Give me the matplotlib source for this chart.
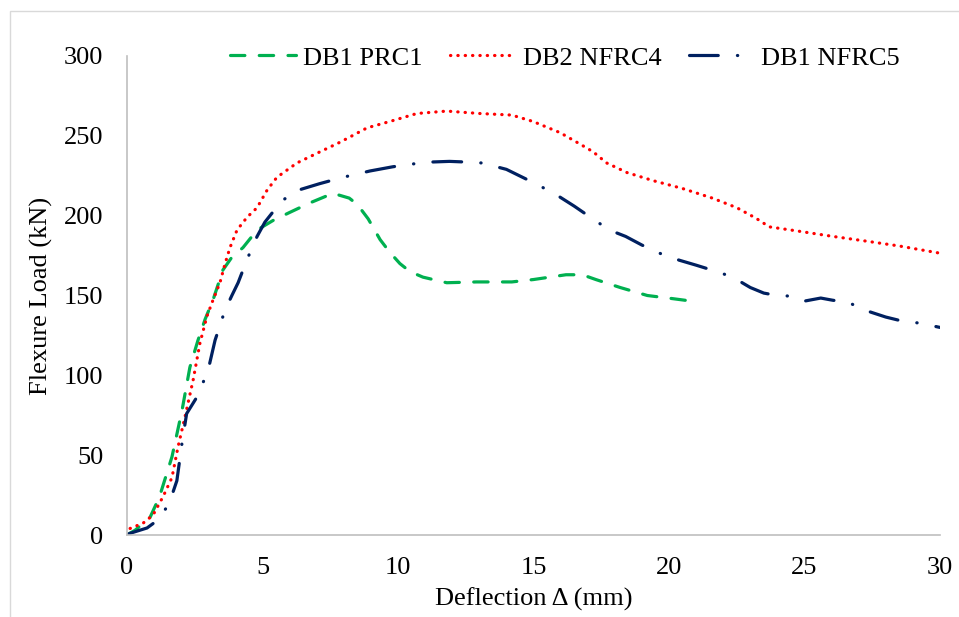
import matplotlib.pyplot as plt
from matplotlib.patches import Rectangle

# DB1 PRC1
x_prc1 = [0, 0.3, 0.85, 1.2, 1.66, 2.03, 2.32, 2.62, 2.88, 3.17, 3.54, 3.87, 4.28, 4.8, 5.39, 6.0,
          6.75, 7.6, 8.2, 8.5, 8.9, 9.34, 9.7, 10.07, 10.44, 10.92, 11.8, 12.9, 14.2, 15.0, 16.2,
          16.8, 17.3, 18.2, 19.2, 20.15, 20.6]
y_prc1 = [0, 3, 11, 24, 49, 78, 105, 122, 135, 147, 166, 174, 180, 191, 197, 202,
          208, 214, 211, 207, 198, 185, 177, 170, 165, 161.5, 158, 158.5, 158.5, 160, 163,
          163, 160, 155, 150, 148, 147]

# DB2 NFRC4
x_nfrc4 = [0, 0.1, 0.6, 0.96, 1.33, 1.66, 1.88, 2.14, 2.44, 2.69, 2.95, 3.17, 3.43, 3.62, 3.8,
           4.06, 4.43, 4.8, 5.17, 5.53, 6.27, 7.0, 7.86, 8.86, 9.7, 10.7, 11.8, 13.0, 14.2, 14.98,
           15.98, 16.7, 17.2, 17.7, 18.45, 19.4, 20.5, 21.6, 22.5, 23.2, 23.7, 24.7, 26.05, 27.3,
           28.5, 30]
y_nfrc4 = [0, 4, 7.5, 12.5, 24, 36, 55, 74, 97, 120, 137, 147, 158, 170, 180,
           191, 199, 205, 216, 224, 233, 239, 246, 255, 259, 264, 265.5, 264, 263, 259,
           252, 245, 240, 233, 227, 222, 217, 211, 205, 198.5, 193, 190.5, 187, 184,
           181, 176.5]

# DB1 NFRC5
x_nfrc5 = [0, 0.1, 0.74, 1.14, 1.47, 1.7, 1.84, 2.03, 2.2, 2.58, 2.77, 2.99, 3.25, 3.62, 3.87,
           4.1, 4.35, 4.54, 4.8, 5.09, 5.65, 6.13, 7.1, 7.96, 8.97, 9.8, 10.37, 11.07, 11.9, 12.5,
           13.1, 14.0, 14.6, 15.2, 15.98, 16.5, 17.1, 17.8, 18.4, 19.0, 19.85, 20.4, 21.0, 21.95,
           22.5, 23.0, 23.5, 24.0, 24.5, 25.0, 25.6, 26.05, 26.6, 27.1, 28.0, 28.6, 29.25, 30]
y_nfrc5 = [0, 1, 4.4, 9.4, 17.5, 27, 34, 57.6, 76, 86.4, 94, 103, 122, 141, 150,
           158, 169, 177, 187, 196, 208, 215, 220, 224, 228, 230.6, 232, 233.5, 234, 233.6,
           233, 229, 224, 219, 211.6, 206, 199, 191, 187, 181.6, 175, 172, 169, 164,
           160, 155, 151.5, 150, 149.6, 146.5, 148.4, 147, 146, 141.5, 136.5, 134, 132.7, 130]

plt.rcParams['font.family'] = ['Liberation Serif', 'DejaVu Serif']

fig = plt.figure(figsize=(9.59, 6.17), dpi=100)
ax = fig.add_axes([127/959, 1 - 535/617, (940-127)/959, (535-56)/617])

lw = 2.3
ax.plot(x_prc1, y_prc1, color='#00B050', lw=lw, linestyle=(0, (4.5, 4.5)),
        dash_capstyle='round', label='DB1 PRC1')
ax.plot(x_nfrc4, y_nfrc4, color='#FF0000', lw=lw, linestyle=(0, (0.1, 2.2)),
        dash_capstyle='round', label='DB2 NFRC4')
ax.plot(x_nfrc5, y_nfrc5, color='#002060', lw=lw, linestyle=(0, (9, 6, 0.1, 6)),
        dash_capstyle='round', label='DB1 NFRC5')

ax.set_xlim(0, 30)
ax.set_ylim(0, 300)
ax.set_xticks(range(0, 31, 5))
ax.set_yticks(range(0, 301, 50))
ax.tick_params(length=0, labelsize=19)
ax.tick_params(axis='y', pad=17)
ax.tick_params(axis='x', pad=16)
for s in ['top', 'right']:
    ax.spines[s].set_visible(False)
for s in ['left', 'bottom']:
    ax.spines[s].set_color('#bfbfbf')
    ax.spines[s].set_linewidth(1.2)

ax.set_xlabel('Deflection Δ (mm)', fontsize=19, labelpad=6)
ax.set_ylabel('Flexure Load (kN)', fontsize=19, labelpad=8)

ax.legend(loc='center', bbox_to_anchor=(565/959, 1 - 58/617), bbox_transform=fig.transFigure,
          ncol=3, frameon=False, fontsize=19, handlelength=2.5, handletextpad=0.26,
          columnspacing=1.04)

fig.add_artist(Rectangle((10/959, -0.05), 1.1, 1.05 - 11/617, transform=fig.transFigure,
                         fill=False, edgecolor='#d9d9d9', lw=1))

fig.savefig('out.png', dpi=100)
